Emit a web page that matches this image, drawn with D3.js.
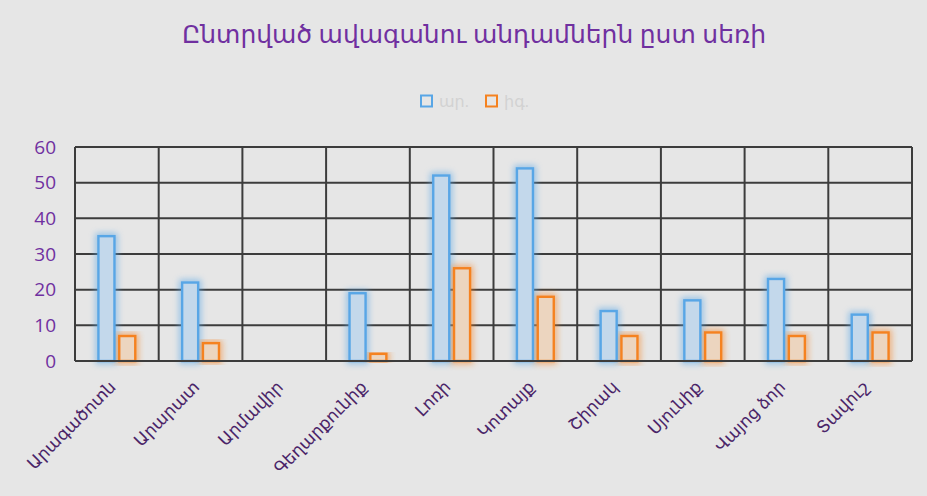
<!DOCTYPE html>
<html><head><meta charset="utf-8">
<script src="https://cdn.jsdelivr.net/npm/d3@7/dist/d3.min.js"></script>
<style>
html,body{margin:0;padding:0;background:#e6e6e6;}
svg{display:block;}
</style></head>
<body>
<svg id="chart" width="927" height="496"></svg>
<script>
const title = "Ընտրված ավագանու անդամներն ըստ սեռի";
const categories = ["Արագածոտն","Արարատ","Արմավիր","Գեղարքունիք","Լոռի","Կոտայք","Շիրակ","Սյունիք","Վայոց ձոր","Տավուշ"];
const seriesNames = ["ար.","իգ."];
const maleValues = [35,22,0,19,52,54,14,17,23,13];
const femaleValues = [7,5,0,2,26,18,7,8,7,8];
const yTicks = [0,10,20,30,40,50,60];

const seriesColors = ["#58a6e6","#f58220"];
const seriesFills = ["#c3d8eb","#ecd5bf"];
const seriesValues = [maleValues, femaleValues];

const W = 927, H = 496;
const m = {left:75, right:15, top:147, bottom:135};
const svg = d3.select("#chart");
svg.append("rect").attr("width",W).attr("height",H).attr("fill","#e6e6e6");

const defs = svg.append("defs");
const f = defs.append("filter").attr("id","glow").attr("x","-60%").attr("y","-20%").attr("width","220%").attr("height","140%");
f.append("feGaussianBlur").attr("stdDeviation",3.2);

const x0 = d3.scaleBand().domain(categories).range([m.left, W-m.right]).padding(0);
const bw = x0.bandwidth();
const x1 = d3.scaleBand().domain(seriesNames).range([bw/2 - bw*0.22, bw/2 + bw*0.22]).paddingInner(0.23);
const y = d3.scaleLinear().domain([0,60]).range([H-m.bottom, m.top]);

const fontF = "'Open Sans','DejaVu Sans',sans-serif";

// title
svg.append("text").attr("x",474).attr("y",43).attr("text-anchor","middle")
  .attr("font-family",fontF).attr("font-size",25).attr("fill","#7030a0").text(title);

// legend
const legX = [421, 486];
seriesNames.forEach((s,i)=>{
  svg.append("rect").attr("x",legX[i]).attr("y",95.5).attr("width",11).attr("height",11)
    .attr("fill","none").attr("stroke",seriesColors[i]).attr("stroke-width",2);
  svg.append("text").attr("x",legX[i]+18).attr("y",107).attr("font-family",fontF)
    .attr("font-size",16).attr("fill","#d2d2d2").text(s);
});

// gridlines
const grid = svg.append("g");
yTicks.forEach(t=>{
  grid.append("line").attr("x1",m.left).attr("x2",W-m.right).attr("y1",y(t)).attr("y2",y(t))
    .attr("stroke","#3c3c3c").attr("stroke-width",2);
});
const bounds = categories.map(c=>x0(c)).concat([x0(categories[categories.length-1])+bw]);
bounds.forEach(b=>{
  grid.append("line").attr("x1",b).attr("x2",b).attr("y1",y(60)).attr("y2",y(0))
    .attr("stroke","#3c3c3c").attr("stroke-width",2);
});

// y-axis labels
const yAxis = d3.axisLeft(y).tickValues(yTicks).tickSize(0).tickPadding(0);
const yg = svg.append("g").attr("transform",`translate(${m.left-19},0)`).call(yAxis);
yg.select(".domain").remove();
yg.selectAll("text").attr("font-family",fontF).attr("font-size",19).attr("fill","#7030a0");

// bars
const data = [];
categories.forEach((c,ci)=>seriesNames.forEach((s,si)=>data.push({c,s,si,v:seriesValues[si][ci]})));
const barsData = data.filter(d=>d.v>0);
const bars = svg.append("g");
bars.selectAll("rect.glow").data(barsData).join("rect").attr("class","glow")
  .attr("x",d=>x0(d.c)+x1(d.s)).attr("y",d=>y(d.v)).attr("width",x1.bandwidth()).attr("height",d=>y(0)-y(d.v))
  .attr("fill","none").attr("stroke",d=>seriesColors[d.si]).attr("stroke-width",6).attr("opacity",0.6)
  .attr("filter","url(#glow)");
bars.selectAll("rect.bar").data(barsData).join("rect").attr("class","bar")
  .attr("x",d=>x0(d.c)+x1(d.s)).attr("y",d=>y(d.v)).attr("width",x1.bandwidth()).attr("height",d=>y(0)-y(d.v))
  .attr("fill",d=>seriesFills[d.si]).attr("stroke",d=>seriesColors[d.si]).attr("stroke-width",2.4);

// redraw baseline over bars
svg.append("line").attr("x1",m.left).attr("x2",W-m.right).attr("y1",y(0)).attr("y2",y(0))
  .attr("stroke","#3c3c3c").attr("stroke-width",2);

// x labels
const xAxis = d3.axisBottom(x0).tickSize(0).tickPadding(0);
const xg = svg.append("g").attr("transform",`translate(0,${y(0)})`).call(xAxis);
xg.select(".domain").remove();
xg.selectAll("text").attr("font-family",fontF).attr("font-size",17).attr("fill","#4a2468")
  .attr("text-anchor","end").attr("dy",0)
  .attr("transform","translate(0,27) rotate(-45)");
</script>
</body></html>
